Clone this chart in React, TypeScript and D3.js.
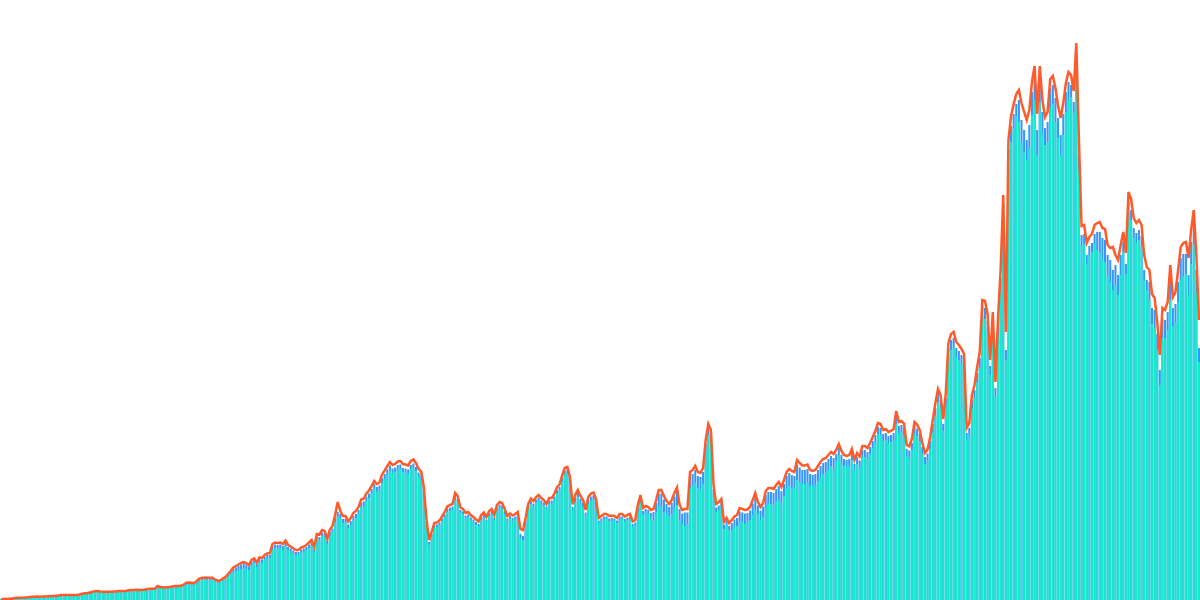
import React from "react";
import * as d3 from "d3";

const WIDTH = 1200;
const HEIGHT = 600;

// Upper line (orange)
const lineValues: number[] = [
  0.8, 1, 1, 1.2, 1.2, 1.8, 2.2, 2.3, 2.3, 2.4,
  2.6, 3.1, 3.3, 3.3, 3.4, 3.3, 3.5, 3.6, 3.8, 4,
  4, 4.1, 4.5, 5, 5, 5, 5.1, 5, 5, 5,
  5.5, 6.2, 6.7, 6.8, 7.5, 8.3, 8.7, 9, 8.6, 8.3,
  8.3, 8.3, 8.2, 8.4, 8.5, 9, 9.1, 9, 9.3, 9.8,
  10, 10, 10.2, 10, 10, 10.3, 11, 11.2, 11.3, 11.5,
  14, 13, 12.6, 12.7, 12.8, 13.2, 13.8, 14, 14, 14.2,
  15.5, 17.2, 17.4, 17.3, 17, 19, 21.5, 22.3, 22.3, 22.4,
  22.3, 22.2, 20.5, 19.3, 19.5, 21.5, 23, 26, 29, 32.5,
  34, 35.5, 37, 38, 37, 35, 40, 41.5, 37.5, 42.5,
  42, 45, 46.5, 47, 56, 57.5, 57, 57.5, 56, 59.5,
  55, 53.5, 51.5, 50, 50, 52.5, 53.5, 55, 57.5, 60,
  53, 66, 65.5, 70, 69, 61, 70.5, 74, 85, 98,
  89, 84, 84, 78.5, 82, 87, 89, 93, 100.5, 101.5,
  106.5, 109.5, 114, 119, 116, 117.5, 125.5, 129.5, 134, 138,
  135, 136, 138.5, 139, 136, 135.5, 134.5, 139, 140.5, 137,
  131, 128.5, 113, 81, 60, 68, 77, 77.5, 79.5, 83.5,
  88, 93.5, 95, 96, 107, 104, 92.5, 91, 87, 88,
  85, 83, 80.5, 78.5, 85, 87.5, 83, 89, 91, 85,
  95, 98, 97, 91, 84, 86.5, 84.5, 86, 88, 71,
  70, 82, 96, 101.5, 99, 103, 105, 102, 100, 96,
  102, 102, 106, 112.5, 115.5, 124.5, 132, 133, 123, 95.5,
  105, 110, 104, 100, 90, 103, 106.5, 107.5, 101, 82,
  84, 86, 86, 84, 84.5, 84, 82, 86, 86, 83.5,
  85, 86, 78.5, 80, 95, 105, 92, 94, 93, 90,
  91, 100, 110, 110, 104, 99, 96, 100, 107, 112.5,
  95, 90, 91, 91, 128, 130, 134, 128, 127, 132,
  160, 176, 170, 115, 96, 98, 101, 78, 82, 77,
  80, 83.5, 85, 92, 91, 90, 90.5, 93, 100, 107,
  98, 93, 97, 109, 112, 112, 111, 115, 118, 113,
  120, 128, 131, 129, 128, 140, 137, 134.5, 134.5, 135.5,
  130, 129, 130, 134, 138, 141, 142, 145, 148, 146,
  150, 156, 149, 145, 144, 145, 151, 140, 147, 143.5,
  154, 154, 152, 157, 163, 169, 177, 176, 170, 171,
  168, 169, 171, 189, 178, 179, 176.5, 155, 153.5, 161,
  178, 175.5, 170, 157, 147, 150.5, 163, 180, 197, 211,
  205, 181, 207, 257, 266, 268, 258, 255, 251, 246,
  172, 177, 205, 215, 233, 248, 300, 299, 286, 240,
  288, 218, 282, 330, 405, 268, 460, 484, 496, 506,
  510, 497, 488, 480, 490, 518, 534, 486, 534, 500,
  483, 488, 521, 524, 512, 494, 482, 497, 517, 528,
  525, 509, 557, 460, 374, 375, 357, 363, 366, 375,
  377, 378, 372, 371, 355, 352, 353, 345, 340, 355,
  368, 347, 408, 401, 382, 377, 380, 375, 345, 333,
  330, 306, 302, 278, 245, 292, 290, 298, 335, 303,
  308, 330, 353, 357, 358, 342, 370, 390, 345, 280,
];

// Blue bars (behind)
const blueValues: number[] = [
  0.7, 0.9, 0.9, 1.1, 1.1, 1.6, 2, 2.1, 2.1, 2.2,
  2.4, 2.9, 3.1, 3.1, 3.2, 3.1, 3.3, 3.4, 3.6, 3.8,
  3.8, 3.9, 4.3, 4.8, 4.8, 4.8, 4.9, 4.8, 4.8, 4.8,
  5.2, 5.9, 6.4, 6.5, 7.2, 8, 8.4, 8.7, 8.3, 8,
  8, 8, 7.9, 8.1, 8.2, 8.7, 8.8, 8.7, 9, 9.5,
  9.6, 9.6, 9.8, 9.6, 9.6, 9.9, 10.6, 10.8, 10.9, 11.1,
  13.3, 12.5, 12.1, 12.2, 12.3, 12.7, 13.3, 13.5, 13.5, 13.7,
  14.9, 16.5, 16.7, 16.6, 16.3, 18.3, 20.7, 21.5, 21.5, 21.6,
  21.5, 21.4, 19.7, 18.5, 18.7, 20.7, 22.1, 25, 28, 31.3,
  32.7, 34.2, 35.6, 36.6, 35.6, 33.6, 38.6, 40, 36, 41,
  40.5, 43.5, 45, 45.5, 54, 55.5, 55, 55.5, 54, 57.5,
  53, 51.5, 49.5, 48, 48, 50.5, 51.5, 53, 55.5, 58,
  51, 63.5, 63, 67.5, 66.5, 59, 68, 71.5, 82, 88,
  86, 81, 81, 75.5, 79, 84, 86, 90, 97.5, 98.5,
  103.5, 106.5, 111, 116, 113, 114.5, 122, 126, 130.5, 134.5,
  131.5, 132.5, 135, 135.5, 132, 131.5, 130.5, 135, 136.5, 133,
  127.5, 125, 110, 78.5, 58, 66, 75, 75.5, 77.5, 81.5,
  85.5, 91, 92.5, 93.5, 104, 101, 90, 88.5, 84.5, 85.5,
  82.5, 80.5, 78, 76, 82.5, 85, 80.5, 86.5, 88.5, 82.5,
  92.5, 95.5, 94.5, 88.5, 81.5, 84, 82, 83.5, 85.5, 66,
  64, 79.5, 93.5, 99, 96.5, 100.5, 102.5, 99.5, 97.5, 93.5,
  99.5, 99.5, 103.5, 110, 113, 122, 129.5, 130.5, 120.5, 93,
  102, 107, 101, 97, 87.5, 100, 103.5, 104.5, 98, 79.5,
  81.5, 83.5, 83.5, 81.5, 82, 81.5, 79.5, 83.5, 83.5, 81,
  82.5, 83.5, 76, 77.5, 92, 101.5, 89, 91, 90, 87,
  88, 97, 106.5, 106.5, 100.5, 96, 93, 97, 103.5, 108.5,
  91, 86.5, 87.5, 87.5, 124, 126, 130, 124, 123, 128,
  156, 172, 165, 111, 92.5, 94.5, 97.5, 75, 79, 74,
  77, 80.5, 82, 88.5, 87.5, 86.5, 87, 89.5, 96.5, 103,
  94.5, 89.5, 93.5, 105, 108, 108, 107, 111, 114, 109,
  116, 124, 127, 125, 124, 135.5, 132.5, 130, 130, 131,
  126, 125, 126, 130, 134, 137, 138, 141, 144, 142,
  146, 152, 145, 141, 140, 141, 147, 136, 143, 139.5,
  150, 150, 148, 153, 159, 165, 173, 172, 166, 167,
  164, 165, 167, 184, 174, 175, 172, 151, 149.5, 157,
  174, 171.5, 166, 153, 143, 146.5, 159, 176, 192, 206,
  200, 176, 202, 251, 260, 262, 252, 249, 245, 240,
  167, 172, 200, 210, 227, 242, 293, 292, 279, 234,
  281, 212, 275, 322, 396, 250, 450, 474, 486, 496,
  500, 480, 470, 460, 475, 508, 522, 470, 522, 488,
  472, 478, 512, 515, 502, 482, 465, 486, 508, 518,
  515, 498, 545, 445, 365, 366, 345, 354, 357, 366,
  368, 368, 362, 360, 345, 340, 330, 335, 325, 345,
  358, 336, 398, 390, 372, 367, 370, 364, 330, 320,
  318, 292, 290, 266, 230, 282, 280, 288, 322, 292,
  296, 318, 342, 346, 346, 325, 358, 378, 330, 252,
];

// Cyan bars (front)
const cyanValues: number[] = [
  0.5, 0.7, 0.7, 0.9, 0.9, 1.3, 1.7, 1.8, 1.8, 1.9,
  2.1, 2.6, 2.8, 2.8, 2.9, 2.8, 3, 3.1, 3.3, 3.5,
  3.5, 3.6, 4, 4.4, 4.4, 4.4, 4.5, 4.4, 4.4, 4.4,
  4.8, 5.5, 6, 6.1, 6.7, 7.5, 7.9, 8.2, 7.8, 7.5,
  7.5, 7.5, 7.4, 7.6, 7.7, 8.1, 8.2, 8.1, 8.4, 8.9,
  9, 9, 9.2, 9, 9, 9.3, 9.9, 10.1, 10.2, 10.4,
  12.3, 11.7, 11.4, 11.5, 11.6, 12, 12.5, 12.7, 12.7, 12.9,
  13.9, 15.5, 15.7, 15.6, 15.3, 17.2, 19.5, 20.3, 20.3, 20.4,
  20.3, 20.2, 18.6, 17.5, 17.7, 19.5, 20.9, 23.6, 26, 28,
  29, 29.5, 31, 32, 31, 30, 35, 37, 33, 38,
  37.5, 40.5, 42, 42.5, 50, 52, 51.5, 52, 50.5, 54,
  50, 48.5, 46.5, 45, 45, 47.5, 48.5, 50, 52, 54.5,
  48, 60, 59.5, 64, 63, 56, 64.5, 68, 78, 83,
  82, 77, 77, 72, 75, 80, 82, 86, 93, 94,
  99, 102, 106.5, 111, 108.5, 110, 117, 121, 125.5, 129.5,
  127, 128, 130.5, 131, 128, 127.5, 126.5, 131, 132, 129,
  123, 120.5, 106, 75.5, 55.5, 63.5, 72.5, 73, 75, 79,
  83, 88, 89.5, 90.5, 100.5, 98, 87.5, 86, 82, 83,
  80, 78, 75.5, 73.5, 80, 82.5, 78, 84, 86, 80,
  89.5, 92.5, 91.5, 85.5, 79, 81.5, 79.5, 81, 83, 62,
  60, 76.5, 90.5, 96, 93.5, 97.5, 99.5, 96.5, 94.5, 90.5,
  96.5, 96.5, 100.5, 107, 110, 118.5, 126, 127, 117, 90,
  98, 103, 97, 93, 84.5, 96, 99.5, 100.5, 94, 77,
  79, 81, 81, 79, 79.5, 79, 77, 81, 81, 78.5,
  80, 81, 73.5, 75, 88.5, 97.5, 85.5, 87.5, 86.5, 83.5,
  80, 88, 94, 93, 88, 85, 84, 86, 91, 95,
  80, 76, 74, 76, 112, 114, 117, 112, 110, 116,
  148, 165, 158, 105, 88, 90, 93, 71, 75, 70,
  70, 73, 74, 78, 78, 76, 78, 80, 85, 90,
  86, 80, 83, 94, 97, 96, 95, 99, 100, 97,
  104, 112, 114, 112, 111, 120, 118, 116, 116, 118,
  114, 114, 115, 119, 122, 126, 127, 130, 134, 131,
  139, 145, 138, 134, 133, 134, 140, 129, 136, 133,
  143, 143, 141, 146, 152, 158, 166, 165, 159, 160,
  157, 158, 160, 176, 167, 168, 165, 144, 142.5, 150,
  166, 164, 159, 146, 136, 139.5, 151, 168, 184, 198,
  192, 169, 194, 242, 250, 252, 243, 240, 236, 231,
  160, 165, 192, 202, 218, 232, 282, 281, 269, 225,
  270, 204, 265, 310, 382, 240, 432, 458, 472, 484,
  478, 458, 448, 440, 452, 485, 500, 445, 498, 466,
  455, 458, 492, 496, 478, 462, 445, 465, 488, 500,
  503, 487, 530, 430, 355, 356, 336, 345, 348, 356,
  350, 348, 340, 338, 325, 318, 310, 315, 305, 325,
  348, 326, 388, 380, 362, 357, 360, 354, 320, 310,
  300, 276, 272, 250, 215, 262, 262, 270, 300, 274,
  278, 298, 320, 324, 326, 305, 336, 356, 308, 238,
];

const indices = lineValues.map((_, i) => i);

export default function App() {
  const x = d3
    .scaleBand<number>()
    .domain(indices)
    .range([0, WIDTH])
    .paddingInner(0.22)
    .paddingOuter(0);
  const y = d3.scaleLinear().domain([0, 600]).range([HEIGHT, 0]);
  const bw = x.bandwidth();

  const linePath =
    d3
      .line<number>()
      .x((_, i) => (x(i) as number) + bw / 2)
      .y((d) => y(d))(lineValues) || "";

  return (
    <svg
      width={WIDTH}
      height={HEIGHT}
      style={{ position: "absolute", left: 0, top: 0, display: "block" }}
    >
      <rect x={0} y={0} width={WIDTH} height={HEIGHT} fill="#ffffff" />
      <g>
        {blueValues.map((v, i) => (
          <rect
            key={"b" + i}
            x={x(i)}
            y={y(v)}
            width={bw}
            height={HEIGHT - y(v)}
            fill="#3597fc"
          />
        ))}
      </g>
      <g>
        {cyanValues.map((v, i) => (
          <rect
            key={"c" + i}
            x={x(i)}
            y={y(v)}
            width={bw}
            height={HEIGHT - y(v)}
            fill="#18e6cd"
          />
        ))}
      </g>
      <path
        d={linePath}
        fill="none"
        stroke="#ff5b2a"
        strokeWidth={2.5}
        strokeLinejoin="miter"
      />
    </svg>
  );
}
